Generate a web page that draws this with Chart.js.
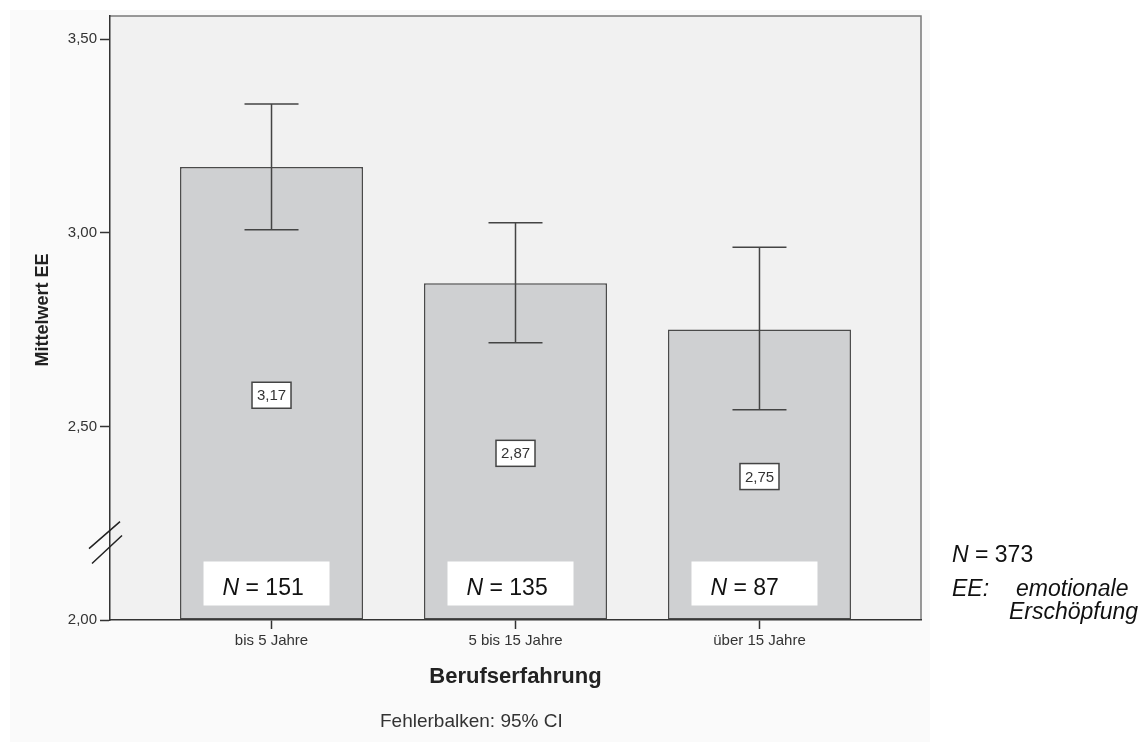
<!DOCTYPE html>
<html>
<head>
<meta charset="utf-8">
<script src="https://cdn.jsdelivr.net/npm/chart.js@4"></script>
<style>
  html, body { margin: 0; padding: 0; background: #ffffff; }
  #wrap { width: 1144px; height: 742px; }
</style>
</head>
<body>
<div id="wrap"><canvas id="eeChart" width="1144" height="742"></canvas></div>
<script>
// Mittelwert EE nach Berufserfahrung, Fehlerbalken 95% CI
const categories = ['bis 5 Jahre', '5 bis 15 Jahre', 'über 15 Jahre'];
const means = [3.17, 2.87, 2.75];
const ciLow = [3.008, 2.716, 2.543];
const ciHigh = [3.333, 3.026, 2.963];
const groupN = [151, 135, 87];
const yTicks = [2.0, 2.5, 3.0, 3.5];
const totalN = 373;

const FONT = '"Liberation Sans", Arial, sans-serif';
const fmt = v => v.toFixed(2).replace('.', ',');

const decor = {
    id: 'decor',
    beforeDraw(chart) {
        const { ctx, chartArea: a } = chart;
        ctx.save();
        ctx.fillStyle = '#ffffff';
        ctx.fillRect(0, 0, chart.width, chart.height);
        // SPSS outer panel
        ctx.fillStyle = '#fafafa';
        ctx.fillRect(10, 10, a.right + 9 - 10, chart.height - 10);
        ctx.fillStyle = '#f1f1f1';
        ctx.fillRect(a.left, a.top, a.right - a.left, a.bottom - a.top);
        // frame top + right
        ctx.strokeStyle = '#7a7a7a';
        ctx.lineWidth = 1.5;
        ctx.beginPath();
        ctx.moveTo(a.left, a.top);
        ctx.lineTo(a.right, a.top);
        ctx.lineTo(a.right, a.bottom);
        ctx.stroke();
        ctx.restore();
    },
    afterDatasetsDraw(chart) {
        const { ctx } = chart;
        const y = chart.scales.y;
        const bars = chart.getDatasetMeta(0).data;
        ctx.save();
        bars.forEach((bar, i) => {
            // error bar
            const top = y.getPixelForValue(ciHigh[i]);
            const bot = y.getPixelForValue(ciLow[i]);
            ctx.strokeStyle = '#444';
            ctx.lineWidth = 1.5;
            ctx.beginPath();
            ctx.moveTo(bar.x, top); ctx.lineTo(bar.x, bot);
            ctx.moveTo(bar.x - 27, top); ctx.lineTo(bar.x + 27, top);
            ctx.moveTo(bar.x - 27, bot); ctx.lineTo(bar.x + 27, bot);
            ctx.stroke();

            // value box in the middle of the bar
            const cy = (bar.y + bar.base) / 2 + 2;
            ctx.fillStyle = '#fff';
            ctx.fillRect(bar.x - 19.5, cy - 13, 39, 26);
            ctx.strokeStyle = '#444';
            ctx.lineWidth = 1.5;
            ctx.strokeRect(bar.x - 19.5, cy - 13, 39, 26);
            ctx.fillStyle = '#333';
            ctx.font = '15px ' + FONT;
            ctx.textAlign = 'center';
            ctx.textBaseline = 'middle';
            ctx.fillText(fmt(means[i]), bar.x, cy + 1);

            // N box
            const bx = bar.x - 68;
            const by = bar.base - 58;
            ctx.fillStyle = '#fff';
            ctx.fillRect(bx, by, 126, 44);
            ctx.fillStyle = '#111';
            ctx.textAlign = 'left';
            ctx.textBaseline = 'alphabetic';
            ctx.font = 'italic 23px ' + FONT;
            ctx.fillText('N', bx + 19, by + 33);
            const w = ctx.measureText('N').width;
            ctx.font = '23px ' + FONT;
            ctx.fillText(' = ' + groupN[i], bx + 19 + w, by + 33);
        });

        // axis break marks
        const ax = chart.chartArea.left;
        const my = y.getPixelForValue(2.2);
        ctx.strokeStyle = '#222';
        ctx.lineWidth = 1.5;
        ctx.beginPath();
        ctx.moveTo(ax - 21, my + 6); ctx.lineTo(ax + 10, my - 21);
        ctx.moveTo(ax - 18, my + 21); ctx.lineTo(ax + 12, my - 7);
        ctx.stroke();
        ctx.restore();
    },
    afterDraw(chart) {
        const { ctx } = chart;
        const xs = chart.scales.x;
        ctx.save();
        ctx.fillStyle = '#222';

        // y title
        ctx.save();
        ctx.translate(43, 310);
        ctx.rotate(-Math.PI / 2);
        ctx.font = 'bold 18px ' + FONT;
        ctx.textAlign = 'center';
        ctx.textBaseline = 'middle';
        ctx.fillText('Mittelwert EE', 0, 0);
        ctx.restore();

        // x title, centred under the middle group
        ctx.font = 'bold 22px ' + FONT;
        ctx.textAlign = 'center';
        ctx.textBaseline = 'alphabetic';
        ctx.fillText('Berufserfahrung', xs.getPixelForValue(1), 683);

        ctx.font = '19px ' + FONT;
        ctx.textAlign = 'left';
        ctx.fillStyle = '#333';
        ctx.fillText('Fehlerbalken: 95% CI', 380, 727);

        // notes on the right
        ctx.fillStyle = '#111';
        ctx.font = 'italic 23px ' + FONT;
        ctx.fillText('N', 952, 562);
        const nw = ctx.measureText('N').width;
        ctx.font = '23px ' + FONT;
        ctx.fillText(' = ' + totalN, 952 + nw, 562);
        ctx.font = 'italic 23px ' + FONT;
        ctx.fillText('EE:', 952, 596);
        ctx.fillText('emotionale', 1016, 596);
        ctx.fillText('Erschöpfung', 1009, 619);
        ctx.restore();
    }
};

new Chart(document.getElementById('eeChart').getContext('2d'), {
    type: 'bar',
    data: {
        datasets: [{
            data: means.map((m, i) => ({ x: i, y: m })),
            base: yTicks[0],
            backgroundColor: '#cfd0d2',
            borderColor: '#4a4a4a',
            borderWidth: 1.5,
            borderSkipped: false,
            barPercentage: 0.75,
            categoryPercentage: 1
        }]
    },
    options: {
        responsive: false,
        animation: false,
        layout: { padding: { left: 0, top: 16, right: 223, bottom: 0 } },
        plugins: { legend: { display: false }, tooltip: { enabled: false } },
        scales: {
            x: {
                type: 'linear',
                min: -0.662,
                max: 2.662,
                offset: false,
                afterFit: s => { s.height = 122; },
                afterBuildTicks: s => { s.ticks = categories.map((c, i) => ({ value: i })); },
                ticks: {
                    callback: v => categories[v],
                    color: '#333',
                    font: { family: FONT, size: 15 },
                    padding: 3,
                    maxRotation: 0,
                    autoSkip: false
                },
                grid: { drawOnChartArea: false, offset: false, tickLength: 9, tickColor: '#333', tickWidth: 1.5 },
                border: { color: '#333', width: 1.5 }
            },
            y: {
                min: 2.0,
                max: 3.56,
                afterFit: s => { s.width = 110; },
                afterBuildTicks: s => { s.ticks = yTicks.map(v => ({ value: v })); },
                ticks: {
                    callback: v => fmt(v),
                    color: '#333',
                    font: { family: FONT, size: 15 },
                    padding: 3
                },
                grid: { drawOnChartArea: false, tickLength: 10, tickColor: '#333', tickWidth: 1.5 },
                border: { color: '#333', width: 1.5 }
            }
        }
    },
    plugins: [decor]
});
</script>
</body>
</html>
